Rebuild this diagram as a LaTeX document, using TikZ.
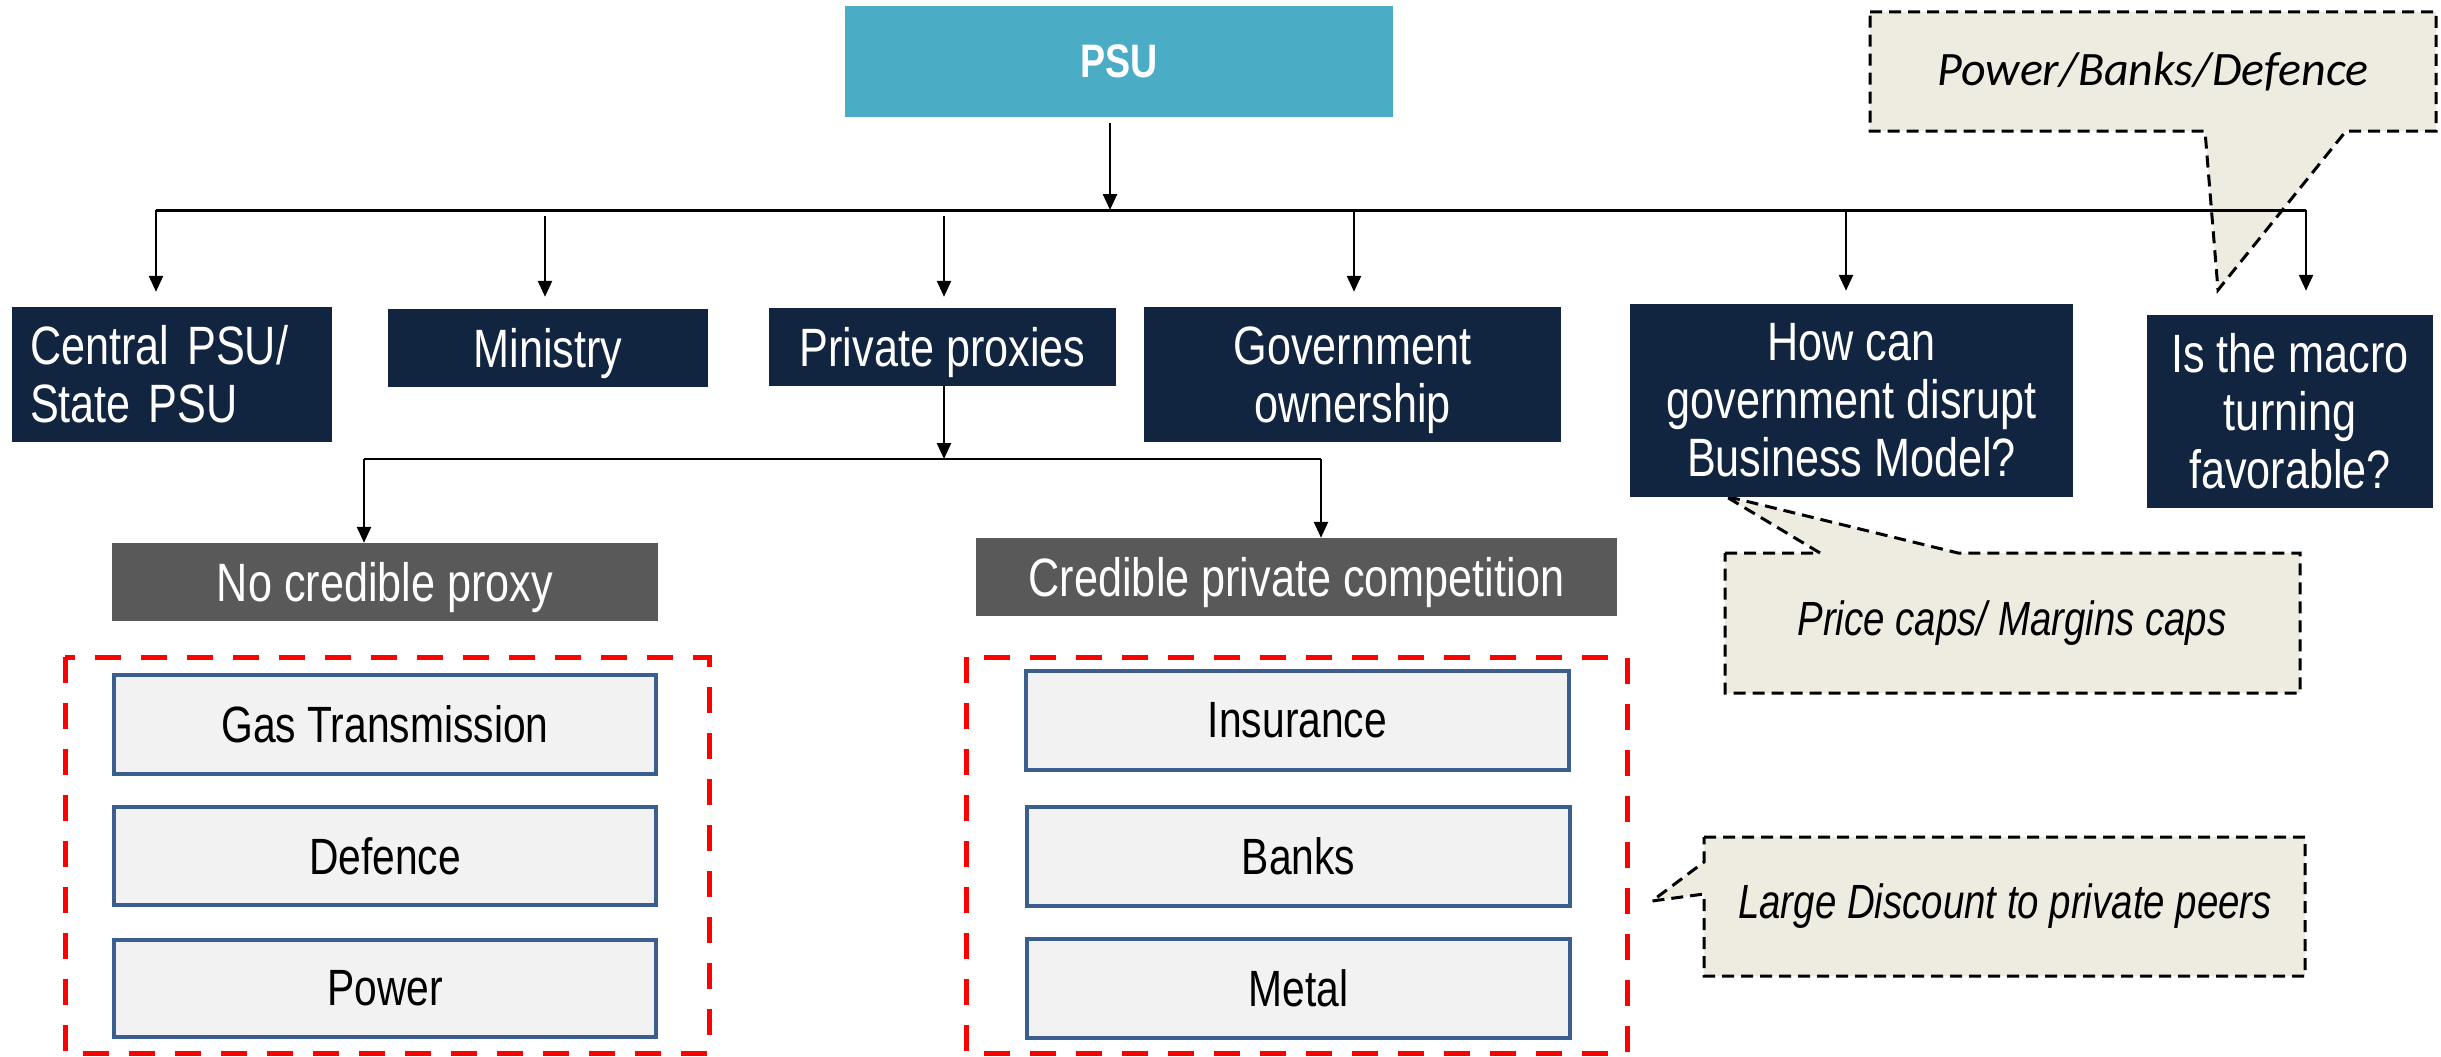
\documentclass[tikz,border=0pt]{standalone}
\usepackage{fontspec}
\setmainfont{Liberation Sans}[FakeStretch=0.8]
\newfontfamily\calfont{Carlito}
\usetikzlibrary{arrows.meta}
\definecolor{psublue}{HTML}{4BACC6}
\definecolor{navy}{HTML}{122540}
\definecolor{hdrgray}{HTML}{595959}
\definecolor{itemfill}{HTML}{F2F2F2}
\definecolor{itemline}{HTML}{3A5F8E}
\definecolor{notefill}{HTML}{EEECE1}
\definecolor{redline}{HTML}{FF0000}
\tikzset{
  box/.style={rectangle, inner sep=0pt, align=center},
  topbox/.style={box, fill=psublue, text=white, font=\bfseries\fontsize{47}{52}\selectfont},
  navybox/.style={box, fill=navy, text=white, font=\fontsize{54}{58}\selectfont},
  hdrbox/.style={box, fill=hdrgray, text=white, text depth=0pt, font=\fontsize{54}{58}\selectfont},
  itembox/.style={box, fill=itemfill, draw=itemline, line width=4.5pt, font=\fontsize{51}{56}\selectfont},
  groupframe/.style={draw=redline, line width=5pt, dash pattern=on 26pt off 20pt},
  note/.style={draw=black, fill=notefill, line width=3pt, dash pattern=on 12pt off 7pt},
  notetext/.style={inner sep=0pt, font=\itshape\fontsize{48}{52}\selectfont},
  conn/.style={draw=black, line width=2.5pt},
  arr/.style={conn, -{Triangle[length=16pt,width=14pt]}},
}
\begin{document}
\begin{tikzpicture}[x=1pt, y=-1pt]
\useasboundingbox (0,0) rectangle (2441,1057);

% callout backgrounds
\path[note] (1870,12) -- (2436,12) -- (2436,131) -- (2346,131) -- (2218,290)
  -- (2205,131) -- (1870,131) -- cycle;
\node[notetext, font=\calfont\itshape\fontsize{48}{52}\selectfont] (n1) at (2153,72) {Power/Banks/Defence};

\path[note] (1725,553) -- (1820,553) -- (1725,496) -- (1958,553) -- (2300,553)
  -- (2300,693) -- (1725,693) -- cycle;
\node[notetext] (n2) at (2012,623) {Price caps/ Margins caps};

\path[note] (1704,837) -- (2305,837) -- (2305,976) -- (1704,976) -- (1704,894)
  -- (1652,901) -- (1704,862) -- cycle;
\node[notetext] (n3) at (2005,906) {Large Discount to private peers};

% top level
\node[topbox, minimum width=548, minimum height=111] (psu) at (1119,61.5) {PSU};

% second level
\node[navybox, minimum width=320, minimum height=135, text width=284, align=left] (central) at (172,374.5) {Central PSU/\\State PSU};
\node[navybox, text depth=0pt, minimum width=320, minimum height=78] (ministry) at (548,348) {Ministry};
\node[navybox, text depth=0pt, minimum width=347, minimum height=78] (private) at (942.5,347) {Private proxies};
\node[navybox, text depth=0pt, minimum width=417, minimum height=135] (gov) at (1352.5,374.5) {Government\\ownership};
\node[navybox, minimum width=443, minimum height=193] (how) at (1851.5,400.5) {How can\\government disrupt\\Business Model?};
\node[navybox, minimum width=286, minimum height=193] (macro) at (2290,411.5) {Is the macro\\turning\\favorable?};

% proxy groups
\node[hdrbox, minimum width=546, minimum height=78] (nocred) at (385,582) {No credible proxy};
\node[hdrbox, minimum width=641, minimum height=78] (cred) at (1296.5,577) {Credible private competition};

\draw[groupframe] (65,657) rectangle (709,1053);
\draw[groupframe] (966,657) rectangle (1627,1053);

\node[itembox, minimum width=542, minimum height=99] (gas) at (385,724.5) {Gas Transmission};
\node[itembox, minimum width=542, minimum height=98] (def) at (385,856) {Defence};
\node[itembox, minimum width=542, minimum height=97] (pow) at (385,988.5) {Power};
\node[itembox, minimum width=543, minimum height=99] (ins) at (1297.5,720.5) {Insurance};
\node[itembox, minimum width=543, minimum height=99] (banks) at (1298.5,856.5) {Banks};
\node[itembox, minimum width=543, minimum height=99] (metal) at (1298.5,988.5) {Metal};

% connectors
\coordinate (bar) at (1110,210);
\coordinate (barL) at (156,210);
\coordinate (barR) at (2306,210);
\coordinate (bMin) at (545,216);
\coordinate (bPri) at (944,216);
\coordinate (bGov) at (1354,210);
\coordinate (bHow) at (1846,210);
\draw[conn, line width=3pt] (barL) -- (barR);
\draw[arr, shorten <=6pt] (bar |- psu.south) -- (bar);
\draw[arr, shorten >=15pt] (barL) -- (barL |- central.north);
\draw[arr, shorten >=12pt] (bMin) -- (bMin |- ministry.north);
\draw[arr, shorten >=11pt] (bPri) -- (bPri |- private.north);
\draw[arr, shorten >=15pt] (bGov) -- (bGov |- gov.north);
\draw[arr, shorten >=13pt] (bHow) -- (bHow |- how.north);
\draw[arr, shorten >=24pt] (barR) -- (barR |- macro.north);

\coordinate (bar2) at (944,459);
\coordinate (bar2L) at (364,459);
\coordinate (bar2R) at (1321,459);
\draw[arr] (bar2 |- private.south) -- (bar2);
\draw[conn] (bar2L) -- (bar2R);
\draw[arr] (bar2L) -- (bar2L |- nocred.north);
\draw[arr] (bar2R) -- (bar2R |- cred.north);
\end{tikzpicture}
\end{document}
